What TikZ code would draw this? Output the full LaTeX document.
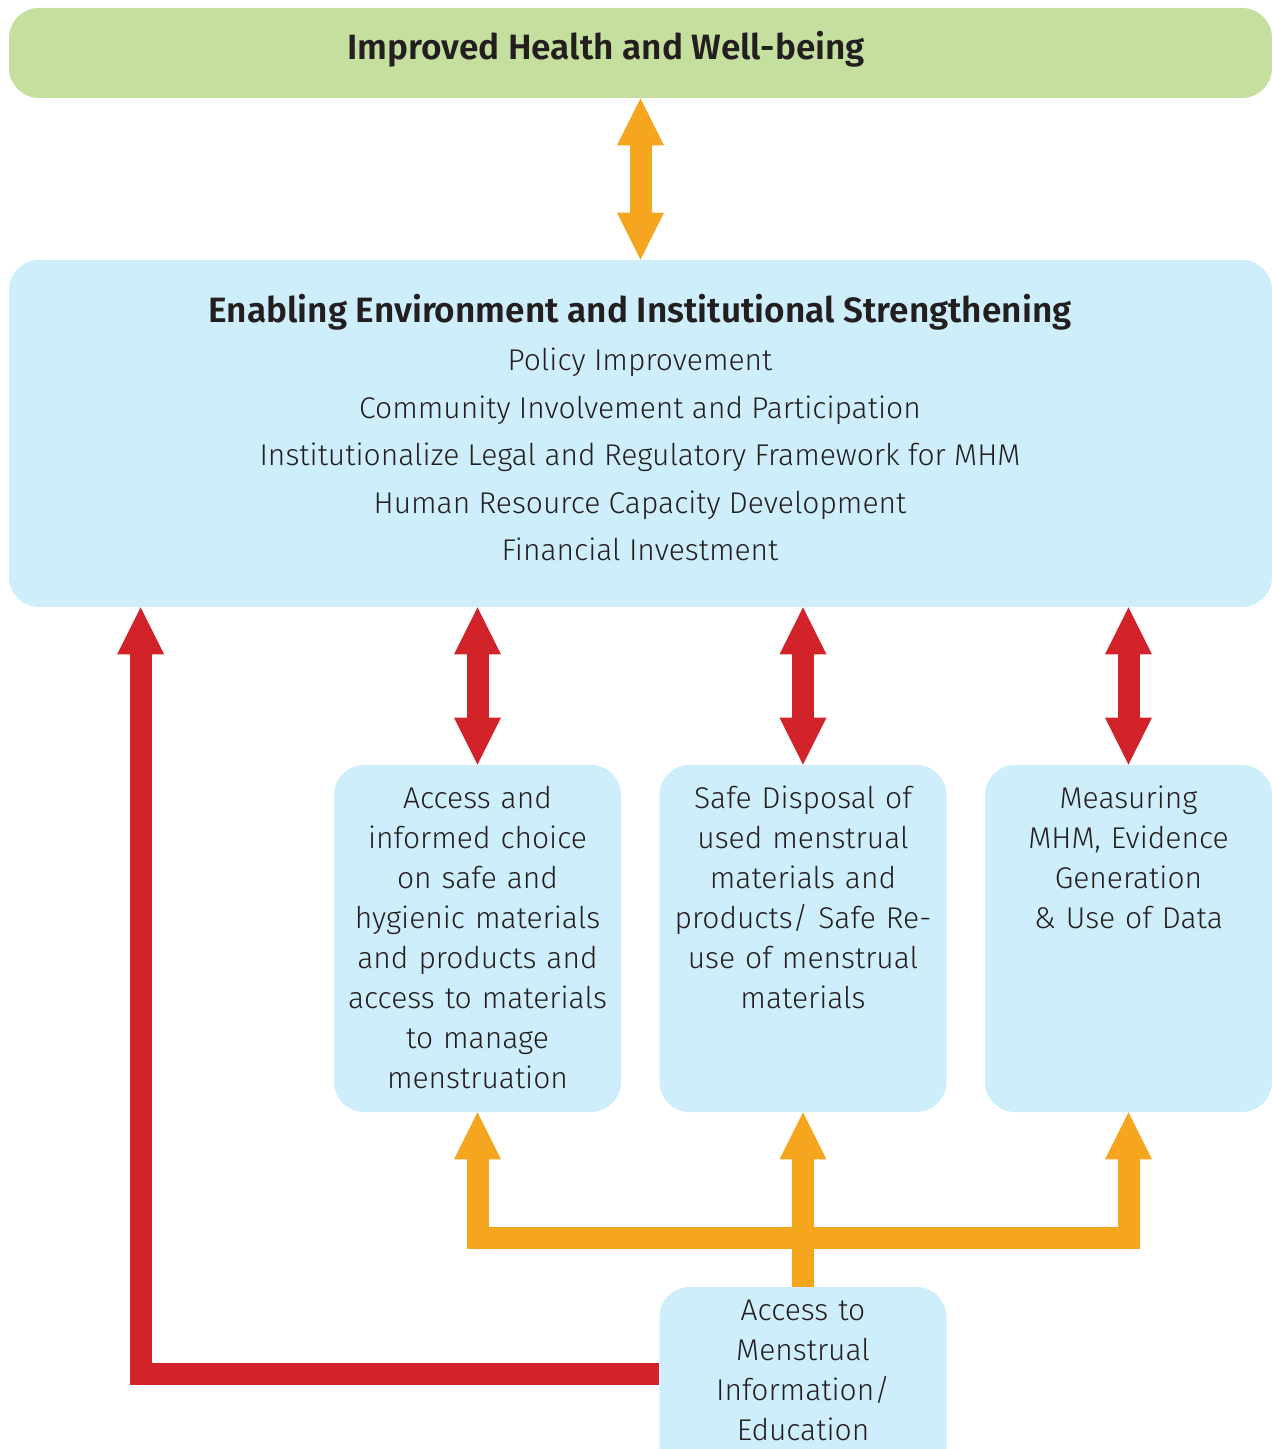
\documentclass[tikz,border=0pt]{standalone}
\usepackage{fontspec}
\setmainfont{Fira Sans}[UprightFont=* Light, BoldFont=* SemiBold]
\usetikzlibrary{arrows.meta}
\definecolor{cgreen}{HTML}{C5DF9E}
\definecolor{cblue}{HTML}{CDEEFA}
\definecolor{corange}{HTML}{F6A51E}
\definecolor{cred}{HTML}{D2232A}
\definecolor{ctext}{HTML}{231F20}
\tikzset{bigtri/.tip={Triangle[width=23.5pt,length=23.5pt,line width=0pt]}}
\begin{document}
\begin{tikzpicture}[x=0.5pt,y=-0.5pt,
 box/.style={fill=cblue, draw=none, rounded corners=15pt, inner sep=0pt},
 txt/.style={text=ctext, font=\fontsize{15pt}{20pt}\selectfont, align=center, inner sep=0pt},
 ttl/.style={text=ctext, font=\fontsize{17.6pt}{20pt}\selectfont\bfseries, inner sep=0pt},
 shaft/.style={line width=11pt, line join=miter},
]
\useasboundingbox (0,0) rectangle (1272,1449);
\clip (0,0) rectangle (1272,1449);
% boxes
\node[box, fill=cgreen, minimum width={1263*0.5pt}, minimum height={90*0.5pt}] (goal) at (640.5,53) {};
\node[box, minimum width={1263*0.5pt}, minimum height={347*0.5pt}] (big) at (640.5,433.5) {};
\node[box, minimum width={287*0.5pt}, minimum height={347*0.5pt}] (a) at (477.5,938.5) {};
\node[box, minimum width={287*0.5pt}, minimum height={347*0.5pt}] (b) at (803,938.5) {};
\node[box, minimum width={287*0.5pt}, minimum height={347*0.5pt}] (c) at (1128.5,938.5) {};
\node[box, minimum width={287*0.5pt}, minimum height={260*0.5pt}] (info) at (803,1417) {};
% texts
\node[ttl, anchor=base] (gt) at (606,59.5) {Improved Health and Well-being};
\node[ttl, anchor=base] (t0) at (640,322) {Enabling Environment and Institutional Strengthening};
\node[txt, anchor=base] (t1) at (640,370.5) {Policy Improvement};
\node[txt, anchor=base] (t2) at (640,418) {Community Involvement and Participation};
\node[txt, anchor=base] (t3) at (640,465.5) {Institutionalize Legal and Regulatory Framework for MHM};
\node[txt, anchor=base] (t4) at (640,513) {Human Resource Capacity Development};
\node[txt, anchor=base] (t5) at (640,560.5) {Financial Investment};
\node[txt, text width={285*0.5pt}, anchor=base] (at) at (477.5,808.5) {Access and\\ informed choice\\ on safe and\\ hygienic materials\\ and products and\\ access to materials\\ to manage\\ menstruation};
\node[txt, text width={285*0.5pt}, anchor=base] (bt) at (803,808.5) {Safe Disposal of\\ used menstrual\\ materials and\\ products/ Safe Re-\\ use of menstrual\\ materials};
\node[txt, text width={285*0.5pt}, anchor=base] (ct) at (1128.5,808.5) {Measuring\\ MHM, Evidence\\ Generation\\ \& Use of Data};
\node[txt, text width={285*0.5pt}, anchor=base] (it) at (803,1320.5) {Access to\\ Menstrual\\ Information/\\ Education};
% connectors
\draw[shaft, corange, {bigtri}-{bigtri}] (goal.south) -- (big.north);
\draw[shaft, cred, {bigtri}-{bigtri}] (big.south -| a.north) -- (a.north);
\draw[shaft, cred, {bigtri}-{bigtri}] (big.south -| b.north) -- (b.north);
\draw[shaft, cred, {bigtri}-{bigtri}] (big.south -| c.north) -- (c.north);
\coordinate (tj) at ([yshift=24.5pt]info.north);
\draw[shaft, corange, -{bigtri}] (info.north) -- (b.south);
\draw[shaft, corange, -{bigtri}] (tj) -| (a.south);
\draw[shaft, corange, -{bigtri}] (tj) -| (c.south);
\draw[shaft, cred, -{bigtri}] ([yshift=-43.5pt]info.north west) -| ([xshift=66pt]big.south west);
\end{tikzpicture}
\end{document}
